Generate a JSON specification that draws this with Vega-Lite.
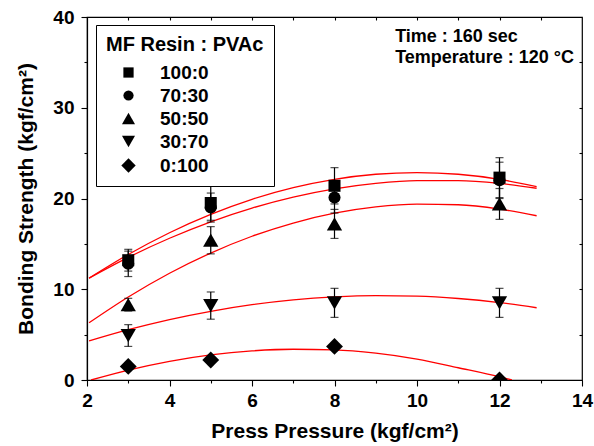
{
  "$schema": "https://vega.github.io/schema/vega-lite/v6.json",
  "width": 495,
  "height": 363,
  "autosize": "none",
  "padding": {"left": 87, "top": 17, "right": 12, "bottom": 66},
  "background": "white",
  "config": {
    "font": "Liberation Sans",
    "view": {"stroke": "black", "strokeWidth": 1.2},
    "axis": {
      "domainColor": "black", "domainWidth": 1.2,
      "tickColor": "black", "tickWidth": 1.1,
      "labelColor": "black", "titleColor": "black",
      "labelFont": "Liberation Sans", "titleFont": "Liberation Sans",
      "labelFontWeight": "bold", "titleFontWeight": "bold",
      "labelFontSize": 19, "titleFontSize": 21, "grid": false
    },
    "legend": {"labelFont": "Liberation Sans", "titleFont": "Liberation Sans"}
  },
  "datasets": {
    "points": [
      {"series": "100:0", "p": 3, "s": 13.2, "err": 1.2},
      {"series": "100:0", "p": 5, "s": 19.5, "err": 1.9},
      {"series": "100:0", "p": 8, "s": 21.4, "err": 2.0},
      {"series": "100:0", "p": 12, "s": 22.3, "err": 2.2},
      {"series": "70:30", "p": 3, "s": 12.8, "err": 1.4},
      {"series": "70:30", "p": 5, "s": 19.0, "err": 1.6},
      {"series": "70:30", "p": 8, "s": 20.1, "err": 1.7},
      {"series": "70:30", "p": 12, "s": 22.0, "err": 2.0},
      {"series": "50:50", "p": 3, "s": 8.3, "err": 0.7},
      {"series": "50:50", "p": 5, "s": 15.4, "err": 1.5},
      {"series": "50:50", "p": 8, "s": 17.2, "err": 1.6},
      {"series": "50:50", "p": 12, "s": 19.4, "err": 1.7},
      {"series": "30:70", "p": 3, "s": 4.9, "err": 1.2},
      {"series": "30:70", "p": 5, "s": 8.2, "err": 1.5},
      {"series": "30:70", "p": 8, "s": 8.5, "err": 1.6},
      {"series": "30:70", "p": 12, "s": 8.5, "err": 1.6},
      {"series": "0:100", "p": 3, "s": 1.5, "err": 0.2},
      {"series": "0:100", "p": 5, "s": 2.2, "err": 0.2},
      {"series": "0:100", "p": 8, "s": 3.7, "err": 0.2},
      {"series": "0:100", "p": 12, "s": 0.0, "err": 0.0}
    ],
    "curves": [
      {"series": "100:0", "p": 2.05, "s": 11.22},
      {"series": "100:0", "p": 3, "s": 13.83},
      {"series": "100:0", "p": 4, "s": 16.23},
      {"series": "100:0", "p": 5, "s": 18.25},
      {"series": "100:0", "p": 6, "s": 19.91},
      {"series": "100:0", "p": 7, "s": 21.19},
      {"series": "100:0", "p": 8, "s": 22.11},
      {"series": "100:0", "p": 9, "s": 22.67},
      {"series": "100:0", "p": 10, "s": 22.85},
      {"series": "100:0", "p": 11, "s": 22.67},
      {"series": "100:0", "p": 12, "s": 22.11},
      {"series": "100:0", "p": 12.9, "s": 21.3},
      {"series": "70:30", "p": 2.05, "s": 11.22},
      {"series": "70:30", "p": 3, "s": 13.51},
      {"series": "70:30", "p": 4, "s": 15.62},
      {"series": "70:30", "p": 5, "s": 17.43},
      {"series": "70:30", "p": 6, "s": 18.94},
      {"series": "70:30", "p": 7, "s": 20.15},
      {"series": "70:30", "p": 8, "s": 21.06},
      {"series": "70:30", "p": 9, "s": 21.66},
      {"series": "70:30", "p": 10, "s": 21.96},
      {"series": "70:30", "p": 11, "s": 21.96},
      {"series": "70:30", "p": 12, "s": 21.66},
      {"series": "70:30", "p": 12.9, "s": 21.13},
      {"series": "50:50", "p": 2.05, "s": 6.3},
      {"series": "50:50", "p": 3, "s": 9.14},
      {"series": "50:50", "p": 4, "s": 11.76},
      {"series": "50:50", "p": 5, "s": 13.99},
      {"series": "50:50", "p": 6, "s": 15.84},
      {"series": "50:50", "p": 7, "s": 17.3},
      {"series": "50:50", "p": 8, "s": 18.38},
      {"series": "50:50", "p": 9, "s": 19.07},
      {"series": "50:50", "p": 10, "s": 19.38},
      {"series": "50:50", "p": 11, "s": 19.31},
      {"series": "50:50", "p": 12, "s": 18.84},
      {"series": "50:50", "p": 12.9, "s": 18.1},
      {"series": "30:70", "p": 2.05, "s": 4.3},
      {"series": "30:70", "p": 3, "s": 5.54},
      {"series": "30:70", "p": 4, "s": 6.66},
      {"series": "30:70", "p": 5, "s": 7.57},
      {"series": "30:70", "p": 6, "s": 8.3},
      {"series": "30:70", "p": 7, "s": 8.83},
      {"series": "30:70", "p": 8, "s": 9.16},
      {"series": "30:70", "p": 9, "s": 9.3},
      {"series": "30:70", "p": 10, "s": 9.24},
      {"series": "30:70", "p": 11, "s": 8.98},
      {"series": "30:70", "p": 12, "s": 8.53},
      {"series": "30:70", "p": 12.9, "s": 7.96},
      {"series": "0:100", "p": 2.1, "s": 0.0},
      {"series": "0:100", "p": 3, "s": 1.09},
      {"series": "0:100", "p": 4, "s": 2.06},
      {"series": "0:100", "p": 5, "s": 2.77},
      {"series": "0:100", "p": 6, "s": 3.21},
      {"series": "0:100", "p": 7, "s": 3.39},
      {"series": "0:100", "p": 8, "s": 3.32},
      {"series": "0:100", "p": 9, "s": 2.95},
      {"series": "0:100", "p": 10, "s": 2.3},
      {"series": "0:100", "p": 11, "s": 1.35},
      {"series": "0:100", "p": 12, "s": 0.35},
      {"series": "0:100", "p": 12.3, "s": 0.0}
    ]
  },
  "layer": [
    {
      "data": {"name": "curves"},
      "mark": {"type": "line", "color": "#ff0000", "strokeWidth": 1.3, "interpolate": "monotone", "clip": true},
      "encoding": {
        "x": {"field": "p", "type": "quantitative", "scale": {"domain": [2, 14], "nice": false},
          "axis": {"orient": "top", "labels": false, "title": null, "domain": false, "values": [3,4,5,6,7,8,9,10,11,12,13], "tickSize": -3}},
        "y": {"field": "s", "type": "quantitative", "scale": {"domain": [0, 40], "nice": false},
          "axis": {"orient": "right", "labels": false, "title": null, "domain": false, "values": [5,10,15,20,25,30,35], "tickSize": -3}},
        "detail": {"field": "series"}
      }
    },
    {
      "data": {"name": "points"},
      "mark": {"type": "errorbar", "color": "black", "ticks": {"size": 8, "thickness": 1.2, "color": "black"}, "rule": {"strokeWidth": 1.2, "color": "black"}},
      "encoding": {
        "x": {"field": "p", "type": "quantitative", "axis": null},
        "y": {"field": "s", "type": "quantitative", "axis": null},
        "yError": {"field": "err"}
      }
    },
    {
      "data": {"name": "points"},
      "mark": {"type": "point", "filled": true, "color": "black", "opacity": 1, "size": 145, "clip": true},
      "encoding": {
        "x": {"field": "p", "type": "quantitative", "scale": {"domain": [2, 14], "nice": false},
          "axis": {"orient": "bottom", "title": "Press Pressure (kgf/cm²)", "values": [2,3,4,5,6,7,8,9,10,11,12,13,14],
            "labelExpr": "datum.value % 2 == 0 ? datum.label : ''",
            "tickSize": {"condition": {"test": "datum.value % 2 != 0", "value": 3}, "value": 6},
            "labelPadding": 5, "titlePadding": 10, "labelFlush": false, "labelOverlap": false}},
        "y": {"field": "s", "type": "quantitative", "scale": {"domain": [0, 40], "nice": false},
          "axis": {"orient": "left", "title": "Bonding Strength (kgf/cm²)", "values": [0,5,10,15,20,25,30,35,40],
            "labelExpr": "datum.value % 10 == 0 ? datum.label : ''",
            "tickSize": {"condition": {"test": "datum.value % 10 != 0", "value": 3}, "value": 6},
            "labelPadding": 7, "titlePadding": 16, "labelFlush": false, "labelOverlap": false}},
        "shape": {"field": "series", "type": "nominal",
          "scale": {"domain": ["100:0", "70:30", "50:50", "30:70", "0:100"],
            "range": ["square", "circle", "M0,-1.1L1.27,1.1L-1.27,1.1Z", "M0,1.1L1.27,-1.1L-1.27,-1.1Z", "M0,-1.4L1.4,0L0,1.4L-1.4,0Z"]},
          "legend": {"orient": "none", "legendX": 9, "legendY": 8, "title": "MF Resin : PVAc",
            "strokeColor": "black", "padding": 10, "titleFontSize": 20, "titleFontWeight": "bold", "titleColor": "black",
            "labelFontSize": 19, "labelFontWeight": "bold", "labelColor": "black", "symbolSize": 105,
            "symbolFillColor": "black", "symbolStrokeColor": "black", "symbolOffset": 13, "labelOffset": 22,
            "rowPadding": 3, "titlePadding": 8, "fillColor": "white"}}
      }
    },
    {
      "data": {"values": [{}]},
      "mark": {"type": "text", "text": ["Time : 160 sec", "Temperature : 120 °C"], "align": "left", "baseline": "alphabetic",
        "fontSize": 18, "fontWeight": "bold", "font": "Liberation Sans", "lineHeight": 21.5, "color": "black"},
      "encoding": {
        "x": {"datum": 9.47, "type": "quantitative", "axis": null},
        "y": {"datum": 37.28, "type": "quantitative", "axis": null}
      }
    }
  ],
  "resolve": {"axis": {"x": "independent", "y": "independent"}}
}
